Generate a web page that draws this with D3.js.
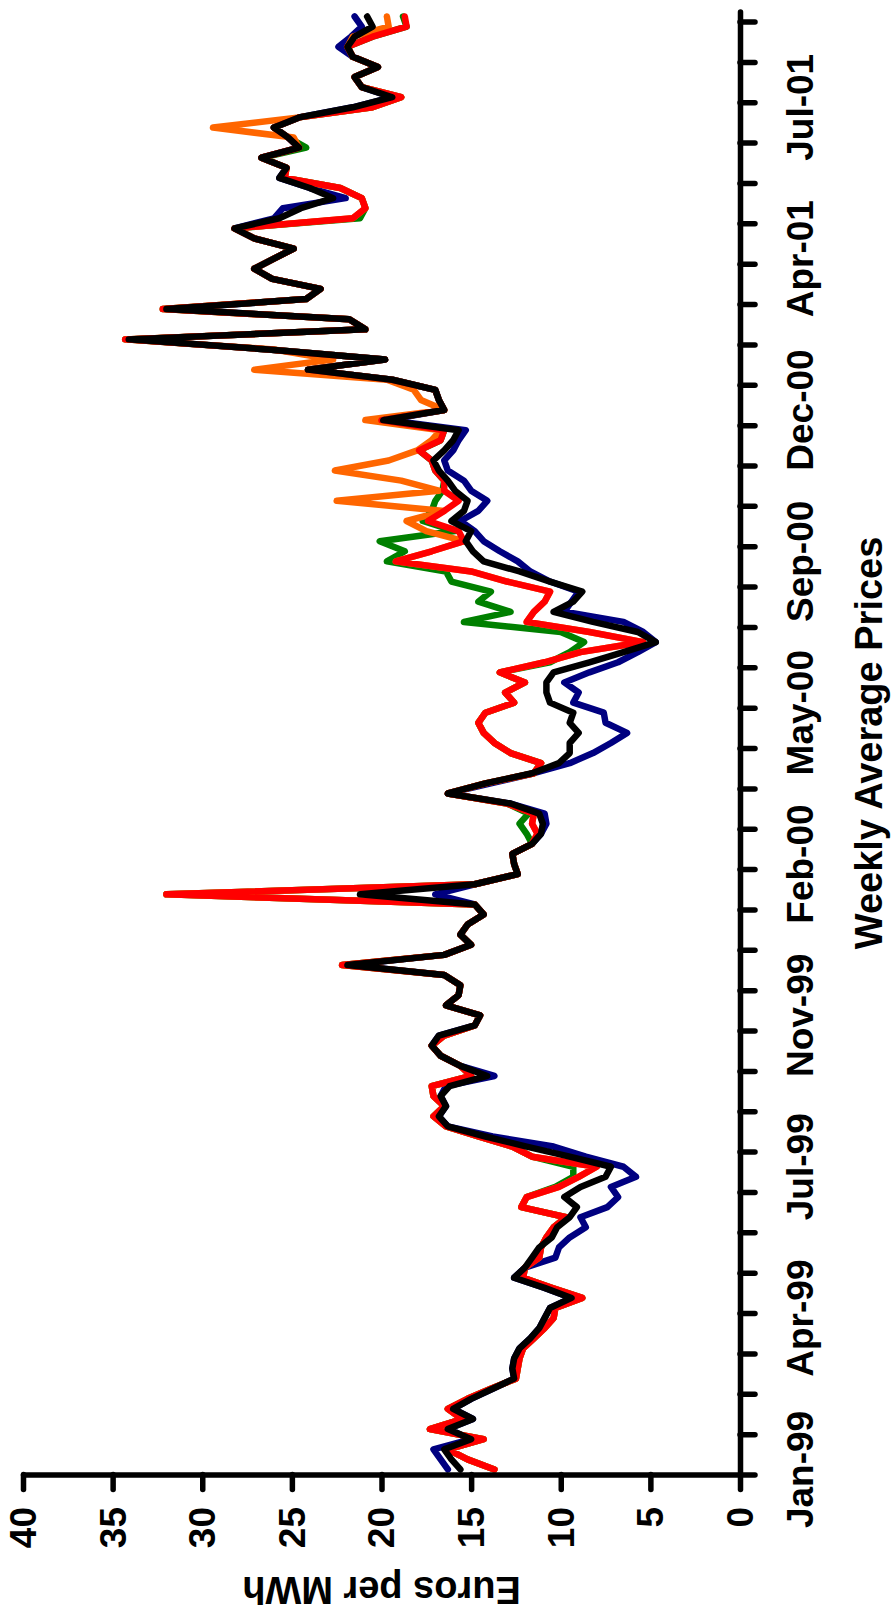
<!DOCTYPE html>
<html><head><meta charset="utf-8">
<script src="https://cdn.jsdelivr.net/npm/d3@7"></script>
<style>html,body{margin:0;padding:0;background:#fff;}svg{display:block;}</style>
</head><body>
<svg id="chart" width="891" height="1619"></svg>
<script>
// ---- data (weekly points, index 0 = first week of Jan-99) ----
const valueTicks = [0,5,10,15,20,25,30,35,40];
const timeLabels = ["Jan-99","Apr-99","Jul-99","Nov-99","Feb-00","May-00","Sep-00","Dec-00","Apr-01","Jul-01"];
const timeLabelWeeks = [0,15,30,45,60,75,90,105,120,135];
const axisTitle = "Weekly Average Prices";
const valueTitle = "Euros per MWh";

const seriesBlue = [
16.3,16.7,17.1,15.0,16.3,14.9,16.0,15.0,13.8,12.6,
12.7,12.6,12.3,11.7,11.2,10.9,10.6,9.4,10.9,12.6,
12.0,10.3,10.1,9.5,8.6,8.9,7.4,6.8,7.2,5.8,
6.5,8.6,10.4,13.8,16.3,16.8,16.4,16.7,16.4,13.7,
15.6,16.7,17.2,16.8,14.8,14.5,16.4,15.7,15.6,16.5,
21.9,16.5,15.0,15.6,15.2,14.3,14.8,17.0,14.8,12.4,
12.6,12.7,11.6,11.1,10.8,10.9,12.8,16.3,13.9,11.5,
9.5,8.2,7.2,6.3,7.5,7.6,9.3,9.0,9.8,8.4,
6.8,5.7,4.7,5.4,6.5,9.8,9.4,9.0,10.6,11.7,
12.4,13.4,14.3,14.8,15.6,14.6,14.1,15.0,15.4,16.3,
16.5,16.0,15.7,15.3,19.7,16.5,16.8,17.0,19.4,24.1,
19.8,26.3,34.1,20.9,21.8,32.0,24.2,23.4,26.1,27.1,
26.0,24.9,27.1,28.2,26.0,25.5,22.0,24.0,25.7,25.3,
26.7,24.6,25.2,26.0,24.6,21.6,19.4,21.1,21.5,20.2,
21.6,22.4,21.7,21.1,21.5];

const seriesGreen = [
13.7,15.2,16.3,14.3,17.3,15.5,16.3,15.2,13.9,12.5,
12.4,12.3,12.1,11.5,10.9,10.4,10.3,8.8,10.5,12.1,
12.0,11.2,11.1,10.8,10.4,9.7,12.2,11.9,10.3,9.3,
9.3,11.6,12.7,14.6,16.4,17.1,16.5,17.1,17.2,15.0,
15.6,16.7,17.2,16.5,14.8,14.5,16.4,15.7,15.6,16.5,
22.2,16.5,15.0,15.6,15.2,14.3,14.8,32.0,14.8,12.4,
12.6,12.7,11.6,11.9,12.3,11.8,13.0,16.3,14.2,11.5,
11.1,12.8,13.7,14.3,14.6,14.2,12.6,13.1,12.0,13.4,
10.6,9.5,8.7,10.0,15.4,12.8,14.6,13.9,16.1,16.4,
19.7,18.7,20.1,15.9,17.7,17.2,17.0,16.6,16.5,17.0,
17.2,17.9,16.7,16.5,20.0,16.5,16.8,17.0,19.4,24.1,
19.8,26.3,34.3,20.9,21.8,32.2,24.2,23.4,26.1,27.1,
26.0,24.9,27.1,28.2,21.2,20.9,21.1,22.3,25.4,25.3,
26.7,24.2,25.2,26.0,24.6,20.5,18.9,21.1,21.5,20.2,
21.6,21.9,20.5,18.6,18.8];

const seriesOrange = [
13.7,15.2,16.3,14.3,17.3,15.5,16.3,15.2,13.9,12.5,
12.4,12.3,12.1,11.5,10.9,10.4,10.3,8.8,10.5,12.1,
12.0,11.2,11.1,10.8,10.4,9.7,12.2,11.9,10.1,9.0,
8.0,11.6,12.7,14.6,16.4,17.1,16.5,17.1,17.2,15.0,
15.6,16.7,17.2,16.5,14.8,14.5,16.4,15.7,15.6,16.5,
22.2,16.5,15.0,15.6,15.2,14.3,14.8,32.0,14.8,12.4,
12.6,12.7,11.6,11.3,11.6,11.5,13.0,16.3,14.2,11.5,
11.1,12.8,13.7,14.3,14.6,14.2,12.6,13.1,12.0,13.4,
10.9,8.9,5.4,8.4,11.9,11.5,10.9,10.6,13.0,15.0,
19.2,17.2,15.4,17.5,18.6,16.5,22.5,16.8,18.9,22.6,
19.6,18.0,17.2,16.7,20.9,16.5,17.8,18.2,19.7,27.1,
22.7,26.0,34.3,20.9,21.8,32.2,24.2,23.4,26.1,27.1,
26.0,24.9,27.1,28.2,21.6,20.9,21.1,22.3,25.4,25.3,
26.7,24.6,24.9,29.4,24.6,20.5,18.9,21.1,21.5,20.2,
21.6,21.9,21.6,19.6,19.7];

const seriesRed = [
13.7,15.2,16.3,14.3,17.3,15.5,16.3,15.2,13.9,12.5,
12.4,12.3,12.1,11.5,10.9,10.4,10.3,8.8,10.5,12.1,
12.0,11.2,11.1,10.8,10.4,9.7,12.2,11.9,10.1,9.0,
8.0,11.6,12.7,14.6,16.4,17.1,16.5,17.1,17.2,15.0,
15.6,16.7,17.2,16.5,14.8,14.5,16.4,15.7,15.6,16.5,
22.2,16.5,15.0,15.6,15.2,14.3,14.8,32.0,14.8,12.4,
12.6,12.7,11.6,11.3,11.6,11.5,13.0,16.3,14.2,11.5,
11.1,12.8,13.7,14.3,14.6,14.2,12.6,13.1,12.0,13.4,
10.9,8.9,5.4,8.4,11.9,11.5,10.9,10.6,13.0,15.0,
19.2,17.2,15.4,15.7,17.4,16.5,15.7,16.5,16.5,17.0,
17.2,17.9,16.7,16.5,20.0,16.5,16.8,17.0,19.4,24.1,
19.8,26.3,34.3,20.9,21.8,32.2,24.2,23.4,26.1,27.1,
26.0,24.9,27.1,28.2,21.6,20.9,21.1,22.3,25.4,25.3,
26.7,24.6,25.2,26.0,24.6,20.5,18.9,21.1,21.5,20.2,
21.6,21.9,20.5,18.6,18.7];

const seriesBlack = [
15.6,16.1,16.5,15.0,16.3,14.9,16.0,15.0,13.8,12.6,
12.7,12.6,12.3,11.7,11.2,10.9,10.6,9.4,10.9,12.6,
12.0,11.6,11.2,10.5,10.2,9.5,9.1,9.8,8.9,7.5,
7.2,9.5,11.9,14.2,16.3,16.8,16.4,16.7,16.2,14.1,
15.6,16.7,17.2,16.8,14.8,14.5,16.4,15.7,15.6,16.5,
21.9,16.5,15.0,15.6,15.2,14.3,14.8,21.2,14.8,12.4,
12.6,12.7,11.6,11.1,11.0,11.2,12.8,16.3,14.2,11.6,
10.1,9.5,9.5,9.0,9.5,9.3,10.6,10.8,10.8,10.4,
8.4,6.5,4.7,5.7,8.2,10.4,9.3,8.8,10.6,12.3,
14.3,14.9,15.3,15.0,16.1,15.4,15.2,15.9,16.3,16.8,
17.1,16.5,16.0,15.7,19.9,16.5,16.8,17.0,19.4,24.1,
19.8,26.3,34.1,20.9,21.8,32.0,24.2,23.4,26.1,27.1,
26.0,24.9,27.1,28.2,25.7,24.5,22.7,24.0,25.7,25.3,
26.7,24.6,25.2,26.0,24.6,21.6,19.4,21.1,21.5,20.2,
21.6,21.9,21.5,20.5,20.8];

const seriesColors = ["#000080","#008000","#FF6600","#FF0000","#000000"];
const seriesList = [seriesBlue, seriesGreen, seriesOrange, seriesRed, seriesBlack];
const nWeeks = 145;

// ---- layout (chart is drawn rotated: time runs bottom->top, value right->left) ----
const svg = d3.select("#chart");
const FONT = "'Liberation Sans', Arial, Helvetica, sans-serif";
const axisY = 1474.5, axisX = 740;

const xVal = d3.scaleLinear().domain([0,40]).range([axisX, 23]);
const yWeek = d3.scaleLinear().domain([0,nWeeks]).range([axisY, axisY - nWeeks*10.09]);

// series
const line = d3.line().x(d => xVal(d)).y((d,i) => yWeek(i + 0.5));
seriesList.forEach((s, k) => {
  svg.append("path").datum(s)
    .attr("d", line).attr("fill","none")
    .attr("stroke", seriesColors[k]).attr("stroke-width", 6.5)
    .attr("stroke-linejoin","round").attr("stroke-linecap","round");
});

// value axis (bottom)
const gV = svg.append("g").attr("transform", `translate(0,${axisY})`)
  .call(d3.axisBottom(xVal).tickValues(valueTicks).tickSize(15).tickSizeOuter(0).tickFormat(""));
gV.select(".domain").attr("stroke","#000").attr("stroke-width",5.5).attr("stroke-linecap","round");
gV.selectAll(".tick line").attr("stroke","#000").attr("stroke-width",5.5).attr("stroke-linecap","round");

// time axis (right)
const gT = svg.append("g").attr("transform", `translate(${axisX},0)`)
  .call(d3.axisRight(yWeek).tickValues(d3.range(0, nWeeks, 4)).tickSize(15).tickSizeOuter(0).tickFormat(""));
gT.select(".domain").attr("stroke","#000").attr("stroke-width",5.5).attr("stroke-linecap","round");
gT.selectAll(".tick line").attr("stroke","#000").attr("stroke-width",5.5).attr("stroke-linecap","round");

// value tick labels (rotated)
svg.append("g").selectAll("text").data(valueTicks).join("text")
  .attr("transform", d => `translate(${xVal(d)},1507) rotate(-90)`)
  .attr("text-anchor","end").attr("dy","0.35em")
  .attr("font-family",FONT).attr("font-weight","bold").attr("font-size",37)
  .text(d => d);

// time labels (rotated)
svg.append("g").selectAll("text").data(timeLabels).join("text")
  .attr("transform", (d,i) => `translate(813,${yWeek(timeLabelWeeks[i] + 0.5)}) rotate(-90)`)
  .attr("text-anchor","middle")
  .attr("font-family",FONT).attr("font-weight","bold").attr("font-size",37)
  .text(d => d);

// titles
svg.append("text")
  .attr("transform", `translate(882,${(axisY + yWeek(nWeeks))/2}) rotate(-90)`)
  .attr("text-anchor","middle")
  .attr("font-family",FONT).attr("font-weight","bold").attr("font-size",38)
  .text(axisTitle);

svg.append("text")
  .attr("transform", `translate(${(xVal(0)+xVal(40))/2},1577) rotate(180)`)
  .attr("text-anchor","middle")
  .attr("font-family",FONT).attr("font-weight","bold").attr("font-size",38)
  .text(valueTitle);
</script>
</body></html>
